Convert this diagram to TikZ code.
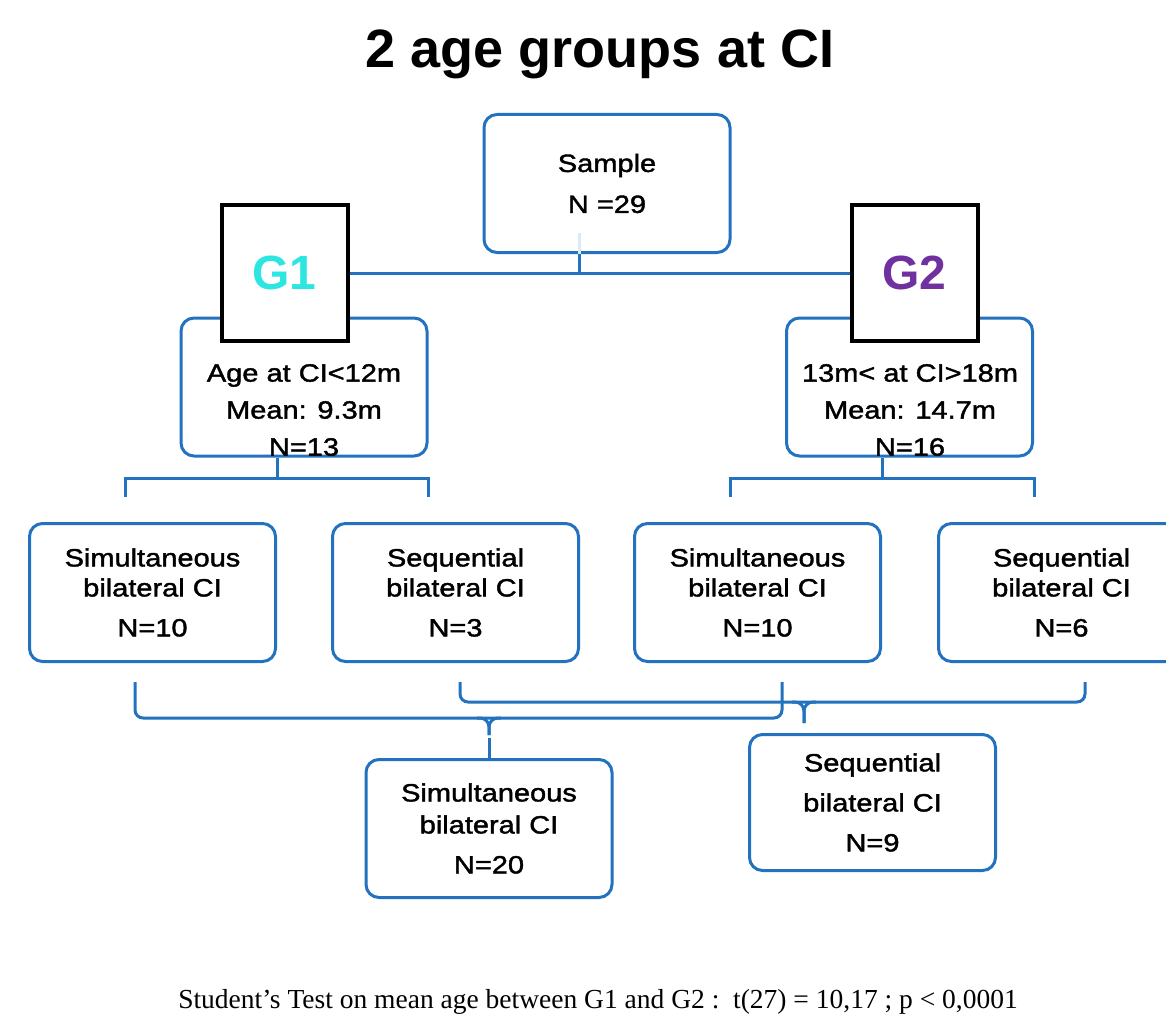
\documentclass[tikz,border=0pt]{standalone}
\usepackage{fontspec}
\setmainfont{Liberation Sans}
\newfontfamily\boxfont{Liberation Sans}[FakeStretch=1.16, FakeBold=1.6]
\newfontfamily\notefont{Liberation Serif}
\usetikzlibrary{positioning, calc}
\definecolor{boxline}{HTML}{2272BF}
\definecolor{faintline}{HTML}{DCE9F6}
\definecolor{gonecol}{HTML}{2EE6E1}
\definecolor{gtwocol}{HTML}{7030A0}
\newcommand\boxtext{\boxfont\fontsize{25}{30}\selectfont}
\tikzset{
  rbox/.style   = {rectangle, rounded corners=13pt, draw=boxline, line width=3pt, fill=white,
                   minimum width=246pt, minimum height=138pt, align=center, inner sep=0pt, font=\boxtext},
  gbox/.style   = {rectangle, draw=black, line width=4pt, fill=white, minimum width=126pt,
                   minimum height=136pt, inner sep=0pt, font=\fontsize{48}{50}\selectfont\bfseries},
  boxtxt/.style = {align=center, inner sep=0pt, font=\boxtext},
  link/.style   = {draw=boxline, line width=3pt},
  bracketline/.style = {link, rounded corners=8pt},
  notchline/.style   = {link, rounded corners=9pt},
}

\begin{document}
\begin{tikzpicture}[x=1pt, y=-1pt]
        \useasboundingbox (0,0) rectangle (1166,1016);
        \clip (0,0) rectangle (1166,1016);
        \node[anchor=base, font=\fontsize{54}{56}\selectfont\bfseries] (title) at (600,68) {2 age groups at CI};
        % top level
        \node[rbox] (sample) at (607,183.5) {Sample\\[11pt]N =29};
        \node[rbox] (infoA) at (304,387) {};
        \node[rbox] (infoB) at (909.5,387) {};
        \node[boxtxt] (infoAtxt) at (304,410) {Age at CI<12m\\[7pt]Mean: 9.3m\\[7pt]N=13};
        \node[boxtxt] (infoBtxt) at (910,410) {13m< at CI>18m\\[7pt]Mean: 14.7m\\[7pt]N=16};
        \node[gbox, text=gonecol] (gA) at (284.5,273) {G1};
        \node[gbox, text=gtwocol] (gB) at (914.5,273) {G2};
        \draw[faintline, line width=3pt] ([xshift=-28pt]sample.south) -- ++(0,-21);
        \draw[link] ([xshift=-28pt]sample.south) -- ++(0,19);
        \draw[link] (gA) -- (gB);
        % second row
        \node[rbox] (simA) at (152.5,592.5) {Simultaneous\\bilateral CI\\[10pt]N=10};
        \node[rbox] (seqA) at (455.5,592.5) {Sequential\\bilateral CI\\[10pt]N=3};
        \node[rbox] (simB) at (757.5,592.5) {Simultaneous\\bilateral CI\\[10pt]N=10};
        \node[rbox] (seqB) at (1061.5,592.5) {Sequential\\bilateral CI\\[10pt]N=6};
        \coordinate (splitA) at (277,478);
        \coordinate (splitB) at (882,478);
        \coordinate (dropA1) at (125,497);
        \coordinate (dropA2) at (428,497);
        \coordinate (dropB1) at (730,497);
        \coordinate (dropB2) at (1034,497);
        \draw[link] (infoA.south -| splitA) -- (splitA);
        \draw[link] (infoB.south -| splitB) -- (splitB);
        \draw[link] (dropA1) |- (splitA) -| (dropA2);
        \draw[link] (dropB1) |- (splitB) -| (dropB2);
        % pooled groups
        \node[rbox, minimum height=138pt] (simAll) at (489,828.5) {Simultaneous\\[2pt]bilateral CI\\[10pt]N=20};
        \node[rbox, minimum height=136pt] (seqAll) at (872.5,802.5) {Sequential\\[10pt]bilateral CI\\[10pt]N=9};
        \coordinate (upA) at (135,682);
        \coordinate (upB) at (460,682);
        \coordinate (upC) at (782,682);
        \coordinate (upD) at (1085,682);
        \coordinate (mergeA) at (489,718);
        \coordinate (mergeB) at (804,702);
        \coordinate (notchA) at (489,735);
        \coordinate (notchB) at (804,723);
        \draw[bracketline] (upA) |- (mergeA) -| (upC);
        \draw[bracketline] (upB) |- (mergeB) -| (upD);
        \draw[notchline] ([xshift=-12pt]mergeA) -| (notchA);
        \draw[notchline] ([xshift=12pt]mergeA) -| (notchA);
        \draw[link] ([yshift=-3pt]notchA) -- (simAll.north);
        \draw[notchline] ([xshift=-12pt]mergeB) -| (notchB);
        \draw[notchline] ([xshift=12pt]mergeB) -| (notchB);
        \node[anchor=base, font=\notefont\fontsize{27.5}{30}\selectfont] (test) at (598,1008)
            {Student’s Test on mean age between G1 and G2 :\enspace t(27) = 10,17 ; p < 0,0001};
    \end{tikzpicture}
\end{document}
